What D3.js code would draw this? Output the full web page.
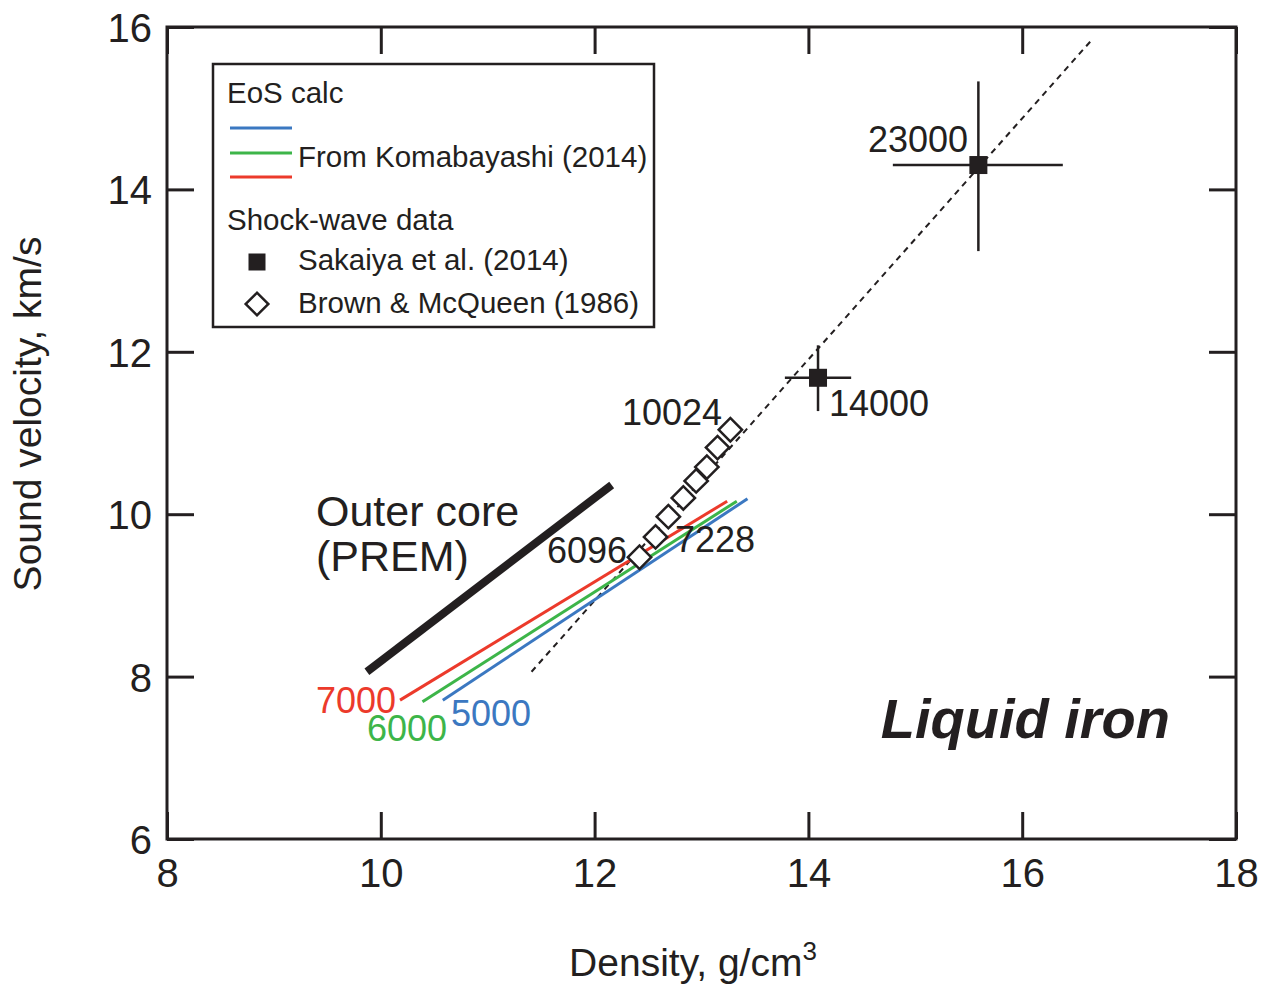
<!DOCTYPE html>
<html>
<head>
<meta charset="utf-8">
<script src="https://cdn.jsdelivr.net/npm/d3@7"></script>
<style>
  body { margin: 0; background: #fff; }
  text { font-family: "Liberation Sans", Arial, sans-serif; fill: #231f20; }
</style>
</head>
<body>
<div id="chart"></div>
<script>
// ---- data ----
var xTicks = [8, 10, 12, 14, 16, 18];
var yTicks = [6, 8, 10, 12, 14, 16];

// PREM outer core
var premDensity = [9.87, 12.16];
var premVelocity = [8.06, 10.36];

// EoS calc (Komabayashi 2014), one line per temperature
var eosTemps = ["5000", "6000", "7000"];
var eosDensity = [[10.58, 13.43], [10.39, 13.33], [10.18, 13.24]];
var eosVelocity = [[7.71, 10.19], [7.69, 10.16], [7.71, 10.16]];

// dashed trend line
var trendDensity = [11.41, 16.65];
var trendVelocity = [8.06, 15.84];

// Sakaiya et al. (2014)
var sakaiyaDensity = [14.09, 15.59];
var sakaiyaVelocity = [11.68, 14.30];
var sakaiyaDensityErr = [[13.78, 14.40], [14.79, 16.38]];
var sakaiyaVelocityErr = [[11.27, 12.08], [13.24, 15.33]];
var sakaiyaLabels = ["14000", "23000"];

// Brown & McQueen (1986)
var brownDensity = [12.42, 12.57, 12.69, 12.83, 12.95, 13.05, 13.15, 13.27];
var brownVelocity = [9.47, 9.72, 9.97, 10.20, 10.41, 10.58, 10.82, 11.04];
var brownLabels = ["6096", "7228", "10024"];

var eosColors = { "5000": "#3b78c1", "6000": "#3db549", "7000": "#ec3a2b" };

var width = 1270, height = 992;

var svg = d3.select("#chart")
  .append("svg")
  .attr("width", width)
  .attr("height", height);

var x = d3.scaleLinear().domain([8, 18]).range([167, 1236]);
var y = d3.scaleLinear().domain([6, 16]).range([839, 27]);

var ink = "#231f20";
var tickLen = 27;

// frame
svg.append("rect")
  .attr("x", x(8)).attr("y", y(16))
  .attr("width", x(18) - x(8)).attr("height", y(6) - y(16))
  .attr("fill", "none").attr("stroke", ink).attr("stroke-width", 3);

// axes with inward ticks on all sides
var axB = svg.append("g").attr("transform", "translate(0," + y(6) + ")")
  .call(d3.axisBottom(x).tickValues(xTicks).tickSizeInner(-tickLen).tickSizeOuter(0).tickPadding(20));
var axT = svg.append("g").attr("transform", "translate(0," + y(16) + ")")
  .call(d3.axisTop(x).tickValues(xTicks).tickSizeInner(-tickLen).tickSizeOuter(0).tickFormat(""));
var axL = svg.append("g").attr("transform", "translate(" + x(8) + ",0)")
  .call(d3.axisLeft(y).tickValues(yTicks).tickSizeInner(-tickLen).tickSizeOuter(0).tickPadding(15));
var axR = svg.append("g").attr("transform", "translate(" + x(18) + ",0)")
  .call(d3.axisRight(y).tickValues(yTicks).tickSizeInner(-tickLen).tickSizeOuter(0).tickFormat(""));

[axB, axT, axL, axR].forEach(function(a) {
  a.select(".domain").remove();
  a.selectAll(".tick line").attr("stroke", ink).attr("stroke-width", 3);
  a.selectAll(".tick text")
    .style("font-family", "'Liberation Sans', Arial, sans-serif")
    .style("font-size", "40px").attr("fill", ink);
});
axB.selectAll(".tick text").attr("dy", "0.71em");
axL.selectAll(".tick text").attr("dy", "0.36em");

// axis titles
var xt = svg.append("text")
  .attr("x", 693).attr("y", 976)
  .attr("text-anchor", "middle")
  .style("font-size", "39px");
xt.append("tspan").text("Density, g/cm");
xt.append("tspan").attr("dy", -16).style("font-size", "26px").text("3");

svg.append("text")
  .attr("transform", "translate(41," + 414 + ") rotate(-90)")
  .attr("text-anchor", "middle")
  .style("font-size", "39px")
  .text("Sound velocity, km/s");

var line = d3.line()
  .x(function(d) { return x(d[0]); })
  .y(function(d) { return y(d[1]); });

// dashed trend
svg.append("path")
  .datum(d3.zip(trendDensity, trendVelocity))
  .attr("d", line)
  .attr("fill", "none").attr("stroke", ink)
  .attr("stroke-width", 2).attr("stroke-dasharray", "6,5");

// PREM
svg.append("path")
  .datum(d3.zip(premDensity, premVelocity))
  .attr("d", line)
  .attr("fill", "none").attr("stroke", ink).attr("stroke-width", 8);

// EoS lines
eosTemps.forEach(function(t, i) {
  svg.append("path")
    .datum(d3.zip(eosDensity[i], eosVelocity[i]))
    .attr("d", line)
    .attr("fill", "none").attr("stroke", eosColors[t]).attr("stroke-width", 3);
});

// Sakaiya error bars + squares
var sq = 18;
sakaiyaDensity.forEach(function(d, i) {
  var v = sakaiyaVelocity[i];
  svg.append("line")
    .attr("x1", x(sakaiyaDensityErr[i][0])).attr("x2", x(sakaiyaDensityErr[i][1]))
    .attr("y1", y(v)).attr("y2", y(v))
    .attr("stroke", ink).attr("stroke-width", 2.5);
  svg.append("line")
    .attr("x1", x(d)).attr("x2", x(d))
    .attr("y1", y(sakaiyaVelocityErr[i][0])).attr("y2", y(sakaiyaVelocityErr[i][1]))
    .attr("stroke", ink).attr("stroke-width", 2.5);
  svg.append("rect")
    .attr("x", x(d) - sq / 2).attr("y", y(v) - sq / 2)
    .attr("width", sq).attr("height", sq)
    .attr("fill", ink);
});

// Brown & McQueen diamonds
var diamond = d3.symbol().type(d3.symbolSquare).size(16.5 * 16.5);
svg.selectAll(".bm")
  .data(d3.zip(brownDensity, brownVelocity))
  .enter()
  .append("path")
  .attr("class", "bm")
  .attr("d", diamond)
  .attr("transform", function(d) { return "translate(" + x(d[0]) + "," + y(d[1]) + ") rotate(45)"; })
  .attr("fill", "#fff").attr("stroke", ink).attr("stroke-width", 2.5);

// annotations
function note(txt, px, py, anchor, size, color) {
  return svg.append("text")
    .attr("x", px).attr("y", py)
    .attr("text-anchor", anchor)
    .style("font-size", size + "px")
    .style("fill", color || ink)
    .text(txt);
}
note(brownLabels[2], 722, 425, "end", 36);
note(brownLabels[1], 675, 552, "start", 36);
note(brownLabels[0], 627, 563, "end", 36);
note(sakaiyaLabels[1], 968, 152, "end", 36);
note(sakaiyaLabels[0], 829, 416, "start", 36);
note("Outer core", 316, 526, "start", 43);
note("(PREM)", 316, 571, "start", 43);
note(eosTemps[2], 316, 713, "start", 36, eosColors["7000"]);
note(eosTemps[1], 367, 741, "start", 36, eosColors["6000"]);
note(eosTemps[0], 451, 726, "start", 36, eosColors["5000"]);
note("Liquid iron", 1170, 738, "end", 56)
  .style("font-weight", "bold").style("font-style", "italic");

// legend
var lg = svg.append("g");
var lgFont = "29.5px";
lg.append("rect")
  .attr("x", 213).attr("y", 64).attr("width", 441).attr("height", 263)
  .attr("fill", "#fff").attr("stroke", ink).attr("stroke-width", 2.5);
lg.append("text").attr("x", 227).attr("y", 103).style("font-size", lgFont).text("EoS calc");
[["5000", 128], ["6000", 153], ["7000", 177]].forEach(function(r) {
  lg.append("line")
    .attr("x1", 230).attr("x2", 292).attr("y1", r[1]).attr("y2", r[1])
    .attr("stroke", eosColors[r[0]]).attr("stroke-width", 3);
});
lg.append("text").attr("x", 298).attr("y", 167).style("font-size", lgFont).text("From Komabayashi (2014)");
lg.append("text").attr("x", 227).attr("y", 230).style("font-size", lgFont).text("Shock-wave data");
lg.append("rect").attr("x", 248.5).attr("y", 253.5).attr("width", 17).attr("height", 17).attr("fill", ink);
lg.append("text").attr("x", 298).attr("y", 270).style("font-size", lgFont).text("Sakaiya et al. (2014)");
lg.append("path")
  .attr("d", d3.symbol().type(d3.symbolSquare).size(16 * 16))
  .attr("transform", "translate(257,304) rotate(45)")
  .attr("fill", "#fff").attr("stroke", ink).attr("stroke-width", 2.5);
lg.append("text").attr("x", 298).attr("y", 313).style("font-size", lgFont).text("Brown & McQueen (1986)");
</script>
</body>
</html>
